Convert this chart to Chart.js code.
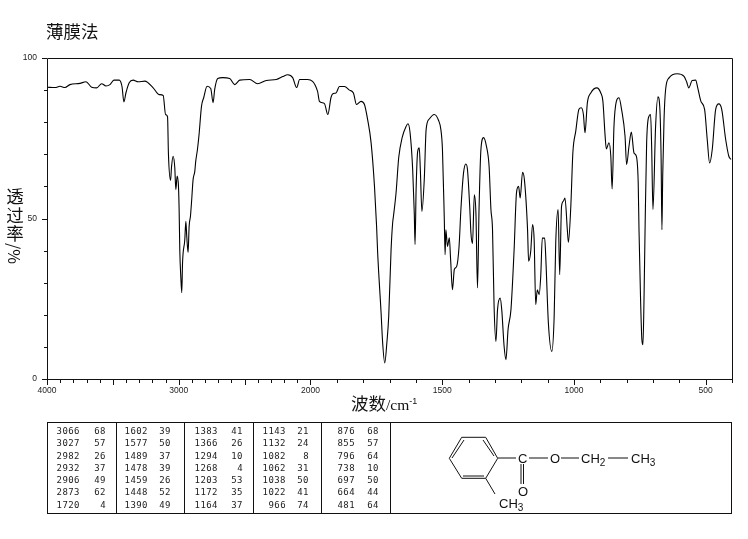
<!DOCTYPE html>
<html>
<head>
<meta charset="utf-8">
<script src="https://cdn.jsdelivr.net/npm/chart.js@4"></script>
<style>
  html, body { margin: 0; padding: 0; background: #fff; }
  #page { position: relative; width: 748px; height: 539px; overflow: hidden; }
  #irChart { position: absolute; left: 0; top: 0; }
  .label { position: absolute; color: #111; font-family: "Noto Sans CJK SC", sans-serif; white-space: nowrap; }
  #title { left: 46px; top: 18px; font-size: 17.5px; line-height: 26px; }
  #xTitle { left: 351px; top: 391px; font-size: 17.5px; line-height: 24px; }
  #xTitle .unit { font: 15.5px "Liberation Serif", serif; }
  #xTitle sup { font: 9px "Liberation Sans", sans-serif; vertical-align: 6px; line-height: 0; }
  #yTitle { left: 6px; top: 187px; width: 18px; font-size: 17.5px; line-height: 18.5px; text-align: center; }
  #yTitle span { display: block; }
  #yTitle .unit { writing-mode: vertical-rl; width: 18px; font-size: 16px; line-height: 18px; }
  #peakBox { position: absolute; left: 47px; top: 422px; width: 685px; height: 92px; border: 1px solid #111; box-sizing: border-box; }
  .sep { position: absolute; top: 422px; width: 1px; height: 92px; background: #111; }
  .peak { position: absolute; font: 9px "DejaVu Sans Mono", monospace; letter-spacing: 0.45px; color: #222; text-align: right; line-height: 10px; }
  svg { position: absolute; left: 0; top: 0; }
  svg text { font-family: "Liberation Sans", sans-serif; font-size: 13px; fill: #111; }
  svg line, svg polygon { stroke: #111; stroke-width: 1; fill: none; }
</style>
</head>
<body>
<div id="page">
  <canvas id="irChart" width="748" height="539"></canvas>
  <div class="label" id="title">薄膜法</div>
  <div class="label" id="xTitle">波数<span class="unit">/cm<sup>-1</sup></span></div>
  <div class="label" id="yTitle"><span>透</span><span>过</span><span>率</span><span class="unit">/%</span></div>
  <div id="peakBox"></div>
  <div id="peaks"></div>
  <svg width="748" height="539">
    <polygon points="461.7,437.3 485.7,437.3 497.7,458.3 485.7,478.3 461.7,478.3 449.3,458.3"/>
    <line x1="452" y1="458" x2="464" y2="440"/>
    <line x1="483" y1="440" x2="494" y2="456"/>
    <line x1="463" y1="476" x2="484" y2="476"/>
    <line x1="498" y1="458" x2="516" y2="458"/>
    <line x1="529" y1="458" x2="548" y2="458"/>
    <line x1="561" y1="458" x2="579" y2="458"/>
    <line x1="608" y1="458" x2="628" y2="458"/>
    <line x1="521" y1="464" x2="521" y2="484"/>
    <line x1="523.5" y1="464" x2="523.5" y2="484"/>
    <line x1="485.7" y1="478.3" x2="495" y2="494"/>
    <text x="518" y="463">C</text>
    <text x="550" y="463">O</text>
    <text x="581" y="463">CH<tspan dy="3" font-size="10">2</tspan></text>
    <text x="631" y="463">CH<tspan dy="3" font-size="10">3</tspan></text>
    <text x="518" y="496">O</text>
    <text x="499" y="508">CH<tspan dy="3" font-size="10">3</tspan></text>
  </svg>
</div>

<script>
/* spectrum */
const waveNumbers = [
  3998,3939,3901,3864,3826,3750,3704,3661,3623,3585,3553,3522,3492,3452,3431,3416,3401,3376,3346,3308,
  3257,3194,3149,3118,3100,3085,3078,3062,3055,3043,3030,3022,3012,3002,2997,2992,2984,2977,2971,2954,
  2946,2939,2929,2921,2911,2903,2891,2878,2871,2858,2846,2827,2810,2785,2757,2739,2727,2704,2666,2613,
  2575,2537,2461,2401,2335,2259,2211,2173,2135,2105,2082,2022,1973,1966,1947,1934,1922,1915,1903,1890,
  1871,1852,1837,1825,1808,1795,1783,1770,1757,1749,1745,1732,1726,1718,1710,1703,1694,1688,1685,1675,
  1665,1652,1637,1630,1622,1612,1606,1603,1599,1593,1587,1583,1577,1568,1561,1549,1530,1514,1505,1499,
  1492,1489,1486,1480,1473,1468,1461,1454,1445,1436,1429,1419,1410,1404,1395,1391,1385,1378,1372,1366,
  1360,1353,1343,1332,1322,1315,1309,1303,1296,1290,1280,1274,1265,1258,1250,1239,1227,1218,1210,1204,
  1195,1188,1176,1172,1164,1157,1151,1145,1139,1132,1126,1120,1111,1107,1097,1084,1075,1069,1060,1054,
  1047,1040,1034,1025,1021,1012,1004,993,981,972,964,958,949,936,913,898,890,882,877,867,
  860,855,848,839,829,819,806,800,791,782,772,763,756,753,747,742,738,734,730,724,
  715,709,705,700,690,681,674,669,666,663,658,652,639,608,582,572,564,551,538,530,
  518,504,494,485,475,462,450,439,424,412,404
];
const transmittance = [
  90.9,90.8,91.2,90.8,91.7,92.1,92.6,90.9,90.7,92.0,91.3,91.7,93.1,93.1,91.2,86.3,89.1,92.3,93.1,92.6,
  92.8,90.7,88.6,88.3,82.4,81.7,69.9,61.9,65.9,69.4,65.9,59.0,63.2,60.0,52.8,40.3,31.6,26.9,36.3,43.4,
  49.1,44.4,39.4,47.6,50.7,55.0,62.1,64.7,67.8,71.5,76.0,85.0,87.7,91.2,90.5,86.1,90.2,93.6,93.9,93.6,
  91.7,93.1,93.3,92.0,93.0,93.3,94.2,94.8,93.9,90.8,93.3,93.3,89.6,86.5,85.8,82.4,87.7,88.9,89.1,91.1,
  91.1,90.0,89.1,85.5,86.5,85.5,80.8,73.7,60.0,47.6,39.4,20.7,11.3,5.0,11.3,19.5,40.3,48.7,50.7,58.1,
  69.0,75.2,78.7,79.5,76.8,65.2,51.7,41.9,59.0,70.9,72.0,65.3,52.2,62.2,77.7,81.0,82.4,80.6,77.7,71.5,
  49.7,38.7,46.5,41.3,44.0,37.2,27.8,34.1,35.1,41.3,52.8,64.2,67.0,65.2,52.8,45.6,42.2,57.4,51.7,28.4,
  53.4,71.5,75.2,72.5,66.3,52.8,46.6,22.6,11.7,21.6,25.2,21.6,10.2,6.0,15.4,21.6,40.3,58.0,60.0,56.4,
  64.4,62.1,46.5,36.7,39.8,48.1,43.4,23.2,27.8,26.3,32.0,43.9,43.9,38.2,17.5,8.6,19.5,42.5,52.8,32.5,
  53.8,55.4,56.4,46.5,42.6,53.4,70.5,77.2,84.0,84.5,82.4,76.7,86.0,89.1,90.7,89.1,86.5,76.2,71.7,73.6,
  69.4,59.2,78.7,86.5,87.6,83.9,75.6,66.8,72.5,76.9,70.4,69.4,61.1,46.5,24.7,12.2,10.7,24.7,46.5,73.6,
  81.9,82.4,72.5,52.8,78.7,87.9,84.5,68.4,46.5,63.2,80.8,90.2,93.8,95.1,94.3,92.5,90.7,93.0,93.1,90.7,
  86.5,84.0,74.6,67.3,71.5,84.0,85.7,84.0,74.6,69.4,68.4
];

/* axis labels */
const xTickLabels = [4000, 3000, 2000, 1500, 1000, 500];
const yTickLabels = [0, 50, 100];
const xTickWaves = [];
for (let w = 4000; w >= 400; w -= 100) xTickWaves.push(w);

/* peak table, column by column */
const peakWaves = [
  ["3066","3027","2982","2932","2906","2873","1720"],
  ["1602","1577","1489","1478","1459","1448","1390"],
  ["1383","1366","1294","1268","1203","1172","1164"],
  ["1143","1132","1082","1062","1038","1022","966"],
  ["876","855","796","738","697","664","481"]
];
const peakValues = [
  ["68","57","26","37","49","62","4"],
  ["39","50","37","39","26","52","49"],
  ["41","26","10","4","53","35","37"],
  ["21","24","8","31","50","41","74"],
  ["68","57","64","10","50","44","64"]
];

/* the wavenumber axis changes scale at 2000 (half as many px per cm-1 above it) */
function axisPos(w) {
  return w >= 2000 ? (4000 - w) / 2 : 1000 + (2000 - w);
}
function axisWave(u) {
  return u <= 1000 ? 4000 - u * 2 : 2000 - (u - 1000);
}

const points = waveNumbers.map((w, i) => ({ x: axisPos(w), y: transmittance[i] }));

/* frame and the two tick lengths */
const frameTicks = {
  id: 'frameTicks',
  afterDraw(chart) {
    const { ctx, chartArea: a, scales } = chart;
    ctx.save();
    ctx.strokeStyle = '#111';
    ctx.lineWidth = 1;
    ctx.beginPath();
    ctx.rect(a.left + 0.5, a.top + 0.5, a.right - a.left, a.bottom - a.top);
    xTickWaves.forEach(w => {
      const px = Math.round(scales.x.getPixelForValue(axisPos(w))) + 0.5;
      const len = w % 500 === 0 ? 6 : 4;
      ctx.moveTo(px, a.bottom);
      ctx.lineTo(px, a.bottom + len);
    });
    scales.y.ticks.forEach(t => {
      const py = Math.round(scales.y.getPixelForValue(t.value)) + 0.5;
      const len = t.value % 50 === 0 ? 5 : 3;
      ctx.moveTo(a.left, py);
      ctx.lineTo(a.left - len, py);
    });
    ctx.stroke();
    ctx.restore();
  }
};

const tickFont = { family: 'Liberation Sans', size: 8.5 };

new Chart(document.getElementById('irChart'), {
  type: 'line',
  data: {
    datasets: [{
      data: points,
      borderColor: '#000',
      borderWidth: 1.1,
      pointRadius: 0,
      cubicInterpolationMode: 'monotone',
      fill: false
    }]
  },
  options: {
    responsive: false,
    animation: false,
    layout: { padding: { top: 58, right: 16, left: 0, bottom: 0 } },
    plugins: { legend: { display: false }, tooltip: { enabled: false } },
    scales: {
      x: {
        type: 'linear',
        min: 0,
        max: 2600,
        grid: { display: false, drawTicks: false },
        border: { display: false },
        afterBuildTicks: s => { s.ticks = xTickLabels.map(w => ({ value: axisPos(w) })); },
        afterFit: s => { s.height = 160; },
        ticks: {
          autoSkip: false,
          maxRotation: 0,
          padding: 7,
          color: '#222',
          font: tickFont,
          callback: v => String(axisWave(v))
        }
      },
      y: {
        min: 0,
        max: 100,
        grid: { display: false, drawTicks: false },
        border: { display: false },
        afterFit: s => { s.width = 47; },
        ticks: {
          stepSize: 10,
          autoSkip: false,
          padding: 10,
          color: '#222',
          font: tickFont,
          callback: v => yTickLabels.includes(v) ? String(v) : ''
        }
      }
    }
  },
  plugins: [frameTicks]
});

/* peak table */
const sepX = [116, 184, 253, 321, 390];
const waveRight = [80, 148, 218, 286, 355];
const valueRight = [106, 171, 243, 309, 379];
const rowY = [426, 438, 451, 463, 475, 487, 500];
const page = document.getElementById('page');
const peaksBox = document.getElementById('peaks');

sepX.forEach(x => {
  const d = document.createElement('div');
  d.className = 'sep';
  d.style.left = x + 'px';
  page.appendChild(d);
});

function addPeak(text, right, top) {
  const d = document.createElement('div');
  d.className = 'peak';
  d.textContent = text;
  d.style.right = (748 - right) + 'px';
  d.style.top = top + 'px';
  peaksBox.appendChild(d);
}

peakWaves.forEach((col, c) => {
  col.forEach((w, r) => {
    addPeak(w, waveRight[c], rowY[r]);
    addPeak(peakValues[c][r], valueRight[c], rowY[r]);
  });
});
</script>
</body>
</html>
